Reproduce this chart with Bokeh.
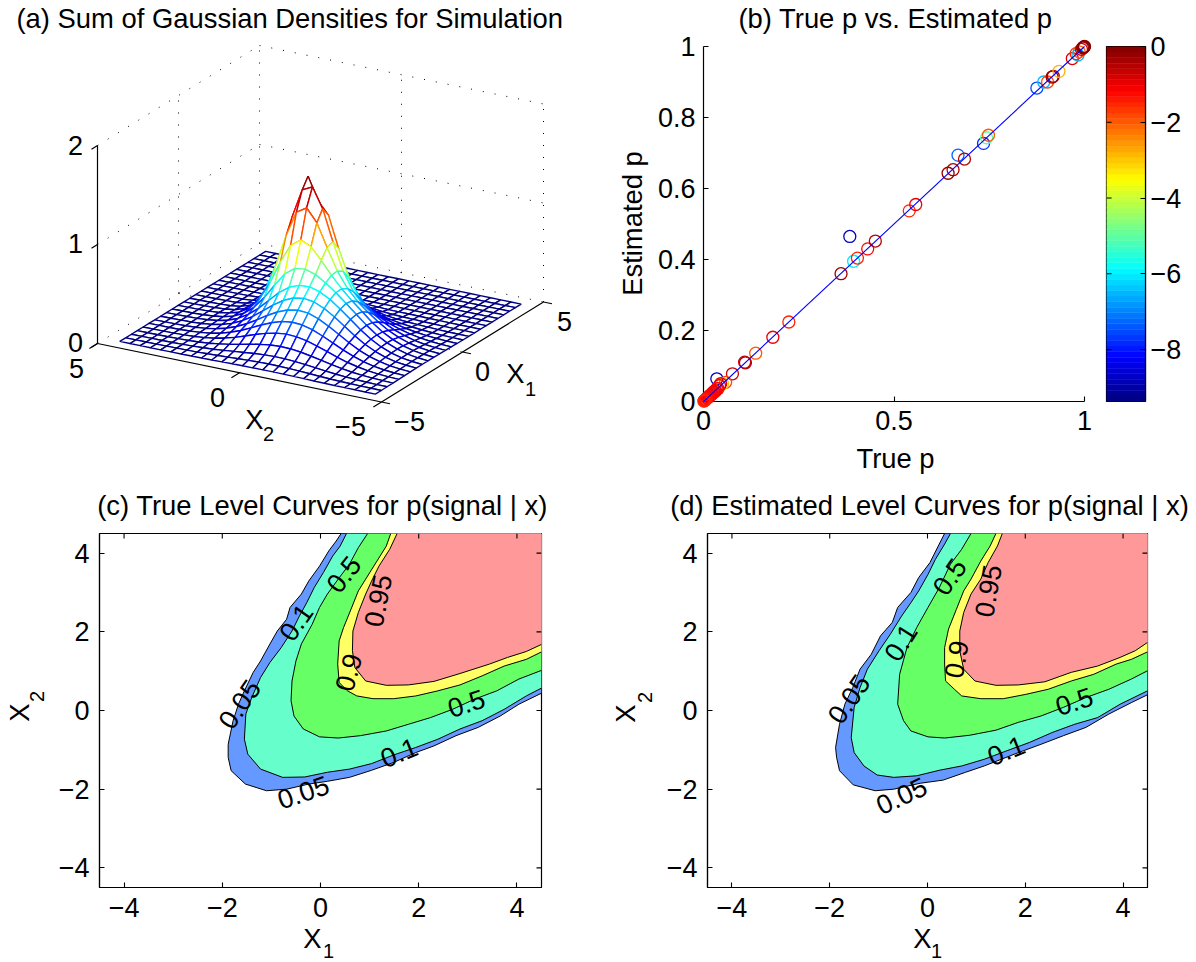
import numpy as np
from bokeh.plotting import figure
from bokeh.layouts import column, row
from bokeh.models import FixedTicker, Range1d
from bokeh.core.properties import value
from bokeh.embed import file_html
from bokeh.resources import INLINE

FONT = "Liberation Sans"
TITLE_PX, TICK_PX, LABEL_PX, SUB_PX, CLAB_PX = "27.4px", "27px", "27.4px", "20px", "27px"

# ---------- panel (a) surface ----------
grid_x1 = [-4.5, -4.14, -3.78, -3.42, -3.06, -2.70, -2.34, -1.98, -1.62, -1.26, -0.90, -0.54, -0.18,
           0.18, 0.54, 0.90, 1.26, 1.62, 1.98, 2.34, 2.70, 3.06, 3.42, 3.78, 4.14, 4.5]
grid_x2 = list(grid_x1)
surface_z = [
 [0,0,.001,.001,.002,.003,.005,.007,.008,.01,.011,.011,.01,.009,.008,.006,.004,.003,.002,.001,.001,0,0,0,0,0],
 [0,.001,.002,.004,.006,.01,.014,.02,.025,.029,.032,.033,.031,.028,.023,.018,.013,.009,.005,.003,.002,.001,0,0,0,0],
 [.001,.002,.004,.008,.014,.021,.031,.043,.054,.063,.07,.072,.068,.06,.05,.039,.028,.019,.012,.007,.004,.002,.001,0,0,0],
 [.002,.005,.009,.016,.026,.041,.06,.082,.103,.122,.134,.138,.131,.116,.097,.074,.053,.036,.022,.013,.007,.004,.002,.001,0,0],
 [.003,.007,.014,.025,.043,.067,.098,.134,.169,.2,.22,.226,.215,.191,.159,.122,.087,.059,.036,.021,.011,.006,.002,.001,0,0],
 [.005,.01,.019,.035,.059,.092,.135,.184,.232,.275,.303,.31,.296,.262,.218,.168,.12,.081,.05,.029,.016,.008,.003,.002,.001,0],
 [.006,.013,.024,.045,.075,.117,.172,.235,.296,.35,.386,.395,.376,.334,.278,.213,.152,.103,.064,.037,.02,.01,.004,.002,.001,0],
 [.007,.015,.029,.053,.09,.14,.205,.28,.353,.418,.463,.478,.461,.414,.347,.266,.188,.125,.077,.044,.024,.012,.005,.003,.001,0],
 [.008,.017,.033,.059,.1,.156,.228,.313,.396,.472,.528,.557,.552,.511,.436,.335,.234,.152,.09,.051,.027,.013,.006,.003,.001,0],
 [.008,.018,.034,.062,.105,.163,.239,.328,.417,.505,.582,.645,.68,.666,.588,.453,.307,.188,.106,.056,.029,.014,.006,.003,.001,0],
 [.008,.017,.033,.06,.101,.157,.23,.318,.408,.508,.622,.75,.868,.914,.839,.649,.424,.242,.124,.06,.03,.013,.006,.003,.001,0],
 [.007,.015,.028,.052,.088,.136,.2,.277,.363,.474,.63,.844,1.073,1.203,1.138,.883,.562,.301,.141,.062,.027,.012,.005,.003,.001,0],
 [.005,.012,.022,.04,.068,.106,.156,.219,.293,.407,.59,.866,1.179,1.379,1.328,1.031,.646,.333,.147,.058,.024,.009,.004,.002,.001,0],
 [.004,.008,.016,.028,.048,.074,.109,.155,.213,.312,.485,.759,1.077,1.2,1.43,.974,.605,.305,.13,.048,.019,.006,.003,.001,0,0],
 [.002,.005,.01,.018,.03,.047,.069,.098,.137,.207,.336,.543,.785,.948,.926,.72,.446,.223,.093,.034,.012,.004,.002,.001,0,0],
 [.001,.003,.005,.01,.017,.026,.038,.056,.077,.117,.19,.309,.447,.541,.528,.411,.254,.127,.052,.019,.008,.002,.001,0,0,0],
 [.001,.001,.003,.005,.009,.013,.019,.026,.038,.057,.088,.14,.198,.239,.232,.18,.112,.057,.024,.009,.002,.001,0,0,0,0],
 [0,.001,.001,.002,.004,.006,.009,.012,.015,.023,.035,.051,.07,.083,.08,.062,.039,.02,.008,.004,.001,.001,0,0,0,0],
 [0,0,.001,.001,.002,.002,.004,.005,.006,.007,.011,.015,.02,.023,.022,.016,.01,.005,.001,.001,0,0,0,0,0,0],
 [0,0,0,0,.001,.001,.001,.002,.002,.003,.003,.003,.003,.003,.002,.002,.001,.001,.001,0,0,0,0,0,0,0],
 [0,0,0,0,0,.001,.001,.001,.001,.001,.001,.001,.001,.001,.001,.001,0,0,0,0,0,0,0,0,0,0],
 [0]*26, [0]*26, [0]*26, [0]*26, [0]*26,
]

# ---------- panel (b) scatter ----------
true_p = [.035,.384,.361,.394,.404,.431,.451,.54,.557,.642,.655,.668,.685,.735,.743,.748,.875,.893,.903,.915,.918,.933,
          .968,.983,.978,.986,.992,.995,.997,.998,.999,1.0,
          .182,.224,.137,.11,.108,.076,.058,.05,.045,.042,.038,.035,.032,.03,.028,.026,.024,.022,.02,.018,.016,.014,.012,.01,.008,.006,.005,.004,.003,.002,.001]
est_p = [.064,.465,.36,.395,.404,.43,.452,.537,.555,.643,.653,.694,.683,.727,.743,.75,.883,.9,.9,.914,.916,.93,
         .966,.976,.98,.985,.992,.996,.997,.998,.999,1.0,
         .181,.224,.136,.109,.111,.078,.054,.05,.05,.045,.036,.036,.03,.03,.026,.027,.023,.022,.019,.018,.016,.013,.012,.01,.008,.006,.005,.004,.003,.002,.001]
log_err = [-8.8,-8.7,-.3,-6,-1.5,-1.2,-.5,-1.5,-1,-.2,-.4,-7.3,-.5,-7.8,-5,-2,-7.5,-6.5,-1.8,-.3,-.3,-2.8,
           -.9,-6.5,-1.5,-2,-.6,-.3,-.2,-.1,-.1,-.1,
           -1,-1.5,-2,-.4,-.6,-.7,-1.8,-3,-1,-.9,-1.2,-1.3,-1,-1.2,-1.1,-1,-1.3,-1.2,-1,-1.2,-1.1,-1.3,-1.2,-1.2,-1.3,-1.4,-1.3,-1.4,-1.4,-1.5,-1.5]
err_low, err_high = -9.37, 0.0

# ---------- panels (c), (d) level curves: (X1, X2) ----------
level_names = ["0.05", "0.1", "0.5", "0.9", "0.95"]
level_colors = ["#6699ff", "#66ffcc", "#66ff66", "#ffff66", "#ff9999"]
c_05 = [(.42,4.5),(.32,4.31),(.17,4.06),(-.02,3.67),(-.24,3.29),(-.39,2.96),(-.62,2.62),(-.69,2.32),(-.88,2.02),(-1.03,1.69),(-1.22,1.26),(-1.37,.97),(-1.55,.5),(-1.67,.16),(-1.78,-.26),(-1.88,-.86),(-1.88,-1.19),(-1.82,-1.53),(-1.53,-1.87),(-1.1,-2.04),(-.69,-2.0),(-.24,-1.87),(.14,-1.8),(.59,-1.7),(1.04,-1.52),(1.49,-1.32),(1.94,-1.07),(2.31,-.9),(2.76,-.64),(3.21,-.43),(3.66,-.14),(4.04,.16),(4.5,.44)]
c_10 = [(.53,4.5),(.4,4.18),(.25,3.93),(.06,3.51),(-.13,3.12),(-.28,2.74),(-.43,2.4),(-.58,2.02),(-.8,1.6),(-1.03,1.22),(-1.22,.84),(-1.4,.33),(-1.52,-.09),(-1.55,-.73),(-1.48,-1.11),(-1.22,-1.49),(-.77,-1.7),(-.32,-1.69),(.14,-1.57),(.59,-1.49),(1.04,-1.35),(1.49,-1.13),(1.94,-.94),(2.39,-.73),(2.84,-.47),(3.29,-.26),(3.74,.03),(4.19,.37),(4.5,.57)]
c_50 = [(.96,4.5),(.77,4.14),(.59,3.72),(.36,3.34),(.14,2.96),(-.02,2.62),(-.17,2.19),(-.39,1.69),(-.5,1.26),(-.58,.75),(-.6,.25),(-.54,-.14),(-.35,-.47),(-.02,-.67),(.36,-.7),(.81,-.64),(1.34,-.52),(1.79,-.35),(2.24,-.18),(2.69,.03),(3.14,.29),(3.59,.5),(4.04,.8),(4.5,1.02)]
c_90 = [(1.43,4.5),(1.34,4.18),(1.15,3.8),(.92,3.34),(.77,3.04),(.62,2.57),(.47,2.11),(.38,1.77),(.35,1.18),(.38,.71),(.55,.5),(.74,.37),(1.07,.3),(1.49,.3),(1.94,.37),(2.39,.5),(2.84,.65),(3.29,.88),(3.74,1.13),(4.19,1.3),(4.5,1.49)]
c_95 = [(1.56,4.5),(1.41,4.1),(1.19,3.67),(1.04,3.29),(.92,2.96),(.77,2.49),(.66,2.02),(.65,1.52),(.7,1.09),(.92,.75),(1.34,.64),(1.79,.65),(2.31,.74),(2.84,.94),(3.44,1.18),(3.81,1.35),(4.19,1.5),(4.5,1.68)]
d_05 = [(.35,4.5),(.24,4.23),(.05,3.76),(-.18,3.38),(-.34,3.0),(-.61,2.62),(-.72,2.24),(-.96,1.9),(-1.15,1.43),(-1.38,1.05),(-1.53,.58),(-1.69,.16),(-1.8,-.35),(-1.88,-.94),(-1.86,-1.19),(-1.8,-1.53),(-1.52,-1.89),(-1.07,-2.04),(-.69,-2.0),(-.15,-1.85),(.32,-1.77),(.78,-1.57),(1.16,-1.41),(1.86,-1.07),(2.32,-.86),(2.78,-.64),(3.24,-.43),(3.71,-.09),(4.17,.2),(4.5,.4)]
d_10 = [(.47,4.5),(.35,4.23),(.16,3.84),(.01,3.46),(-.18,3.04),(-.34,2.74),(-.53,2.4),(-.76,1.94),(-.99,1.52),(-1.23,1.05),(-1.38,.58),(-1.5,.08),(-1.56,-.69),(-1.5,-1.07),(-1.3,-1.41),(-1.03,-1.64),(-.69,-1.7),(-.22,-1.66),(.24,-1.52),(.7,-1.41),(1.16,-1.24),(1.63,-1.02),(2.09,-.81),(2.55,-.56),(3.01,-.35),(3.48,-.18),(3.94,.16),(4.5,.5)]
d_50 = [(.89,4.5),(.7,4.1),(.47,3.72),(.24,3.12),(.01,2.62),(-.22,2.11),(-.42,1.6),(-.57,.92),(-.61,.16),(-.49,-.26),(-.34,-.52),(.01,-.67),(.35,-.7),(.86,-.63),(1.4,-.5),(1.86,-.3),(2.32,-.14),(2.78,.08),(3.24,.33),(3.71,.54),(4.17,.8),(4.5,1.01)]
d_90 = [(1.4,4.5),(1.28,4.18),(1.09,3.8),(.89,3.34),(.74,3.04),(.59,2.57),(.43,2.07),(.35,1.6),(.35,1.18),(.37,.75),(.55,.54),(.7,.37),(1.09,.3),(1.55,.3),(2.01,.41),(2.47,.54),(2.94,.75),(3.4,.92),(3.86,1.18),(4.17,1.3),(4.5,1.49)]
d_95 = [(1.53,4.5),(1.43,4.18),(1.24,3.76),(1.09,3.34),(.89,2.96),(.74,2.49),(.66,2.02),(.66,1.52),(.74,1.05),(.97,.75),(1.4,.64),(1.86,.65),(2.4,.73),(2.94,.97),(3.48,1.13),(3.94,1.35),(4.25,1.52),(4.5,1.73)]
c_labels = [("0.95",1.17,2.79,79),("0.5",.47,3.46,52),("0.1",-.5,2.24,55),("0.05",-1.65,.16,55),("0.9",.57,.97,75),("0.5",2.97,.18,18),("0.1",1.6,-1.07,22),("0.05",-.35,-2.08,19)]
d_labels = [("0.95",1.24,3.04,80),("0.5",.45,3.4,55),("0.1",-.55,1.73,58),("0.05",-1.61,.29,55),("0.9",.59,1.3,80),("0.5",3.0,.23,18),("0.1",1.61,-1.02,22),("0.05",-.53,-2.17,25)]


def jet(t):
    t = min(max(float(t), 0.0), 1.0)
    f = lambda a: min(max(1.5 - abs(4 * t - a), 0.0), 1.0)
    r, g, b = f(3), f(2), f(1)
    return "#%02x%02x%02x" % (round(r * 255), round(g * 255), round(b * 255))


# ---------- panel (a) ----------
ORG = (97.0, 343.0)
V1 = (16.2, -10.0)
V2 = (28.4, 5.85)
VZ = 99.0


def proj(x1, x2, z=0.0):
    return (ORG[0] + (x1 + 5) * V1[0] + (5 - x2) * V2[0],
            ORG[1] + (x1 + 5) * V1[1] + (5 - x2) * V2[1] - z * VZ)


def free(r):
    """Do not clip this renderer to the plot frame."""
    r.level = "annotation"
    return r


pa = figure(width=598, height=478, x_range=Range1d(0, 598), y_range=Range1d(401, 46),
            x_axis_type=None, y_axis_type=None, toolbar_location=None, output_backend="svg",
            min_border_left=0, min_border_right=0, min_border_top=46, min_border_bottom=77, outline_line_color=None)
pa.grid.visible = False
dots = []
for z in (0, 1, 2):
    dots.append([(-5, 5, z), (5, 5, z)])
    dots.append([(5, 5, z), (5, -5, z)])
for x in (0, 5):
    dots.append([(x, 5, 0), (x, 5, 2)])
for x in (0, -5):
    dots.append([(5, x, 0), (5, x, 2)])
dots.append([(0, 5, 0), (0, -5, 0)])
dots.append([(-5, 0, 0), (5, 0, 0)])
free(pa.multi_line([[proj(*q)[0] for q in s] for s in dots], [[proj(*q)[1] for q in s] for s in dots],
                   line_color="black", line_width=1, line_dash="1 11"))
zmax = max(max(r) for r in surface_z)
qx, qy, qc = [], [], []
for i in range(len(grid_x1) - 2, -1, -1):
    for j in range(len(grid_x2) - 2, -1, -1):
        cs = [(i, j), (i + 1, j), (i + 1, j + 1), (i, j + 1)]
        pts = [proj(grid_x1[a], grid_x2[b], surface_z[a][b]) for a, b in cs]
        qx.append([p[0] for p in pts])
        qy.append([p[1] for p in pts])
        zs = [surface_z[a][b] for a, b in cs]
        qc.append(jet((.3 * np.mean(zs) + .7 * max(zs)) / zmax))
free(pa.patches(qx, qy, fill_color="white", line_color=qc, line_width=1.4))
axes3 = [[(-5, 5, 0), (-5, 5, 2)], [(-5, 5, 0), (-5, -5, 0)], [(-5, -5, 0), (5, -5, 0)]]
for z in (0, 1, 2):
    axes3.append([(-5, 5, z), (-5.37, 5, z)])
for x2 in (5, 0, -5):
    axes3.append([(-5, x2, 0), (-5.5, x2, 0)])
for x1 in (-5, 0, 5):
    axes3.append([(x1, -5, 0), (x1, -5.3, 0)])
free(pa.multi_line([[proj(*q)[0] for q in s] for s in axes3], [[proj(*q)[1] for q in s] for s in axes3],
                   line_color="black", line_width=1.2))
a_texts = [("(a) Sum of Gaussian Densities for Simulation", 16, 18, "left", TITLE_PX),
           ("2", 75, 145, "center", TICK_PX), ("1", 75, 243, "center", TICK_PX), ("0", 75, 342, "center", TICK_PX),
           ("5", 76, 368, "center", TICK_PX), ("0", 217, 397, "center", TICK_PX), ("\u22125", 350, 426, "center", TICK_PX),
           ("\u22125", 409, 421, "center", TICK_PX), ("0", 482, 371, "center", TICK_PX), ("5", 564, 321, "center", TICK_PX),
           ("X", 254, 419, "center", LABEL_PX), ("2", 268, 433, "center", SUB_PX),
           ("X", 515, 373, "center", LABEL_PX), ("1", 530, 388, "center", SUB_PX)]
for t, x, y, al, sz in a_texts:
    free(pa.text([x], [y], text=[t], text_font=value(FONT), text_font_size=value(sz), text_align=al,
                 text_baseline="middle", text_color="black"))


def style_axis(ax, standoff=11):
    ax.major_tick_in = 5
    ax.major_tick_out = 0
    ax.minor_tick_in = 0
    ax.minor_tick_out = 0
    ax.axis_line_color = "black"
    ax.axis_line_width = 1.2
    ax.major_tick_line_width = 1.1
    ax.major_label_text_font = FONT
    ax.major_label_text_font_size = TICK_PX
    ax.major_label_text_color = "black"
    ax.major_label_standoff = standoff


def page_label(p, fx0, fx1, fy0, fy1, xr, yr, text, px, py, size, angle=0):
    """Place a text at a page position, through the panel's own data range."""
    x = xr[0] + (px - fx0) / (fx1 - fx0) * (xr[1] - xr[0])
    y = yr[0] + (fy1 - py) / (fy1 - fy0) * (yr[1] - yr[0])
    free(p.text([x], [y], text=[text], text_font=value(FONT), text_font_size=value(size), text_color="black",
                text_align="center", text_baseline="middle", angle=angle, angle_units="deg"))


# ---------- panel (b) ----------
pb = figure(width=502, height=478, x_range=Range1d(0, 1), y_range=Range1d(0, 1), toolbar_location=None,
            output_backend="svg", min_border_left=105, min_border_right=16, min_border_top=46, min_border_bottom=77,
            outline_line_color=None)
pb.grid.visible = False
style_axis(pb.xaxis[0], 9); style_axis(pb.yaxis[0], 8)
pb.xaxis[0].ticker = FixedTicker(ticks=[0, .5, 1])
pb.xaxis[0].major_label_overrides = {0: "0", 0.5: "0.5", 1: "1"}
pb.yaxis[0].ticker = FixedTicker(ticks=[0, .2, .4, .6, .8, 1])
pb.yaxis[0].major_label_overrides = {0: "0", 0.2: "0.2", 0.4: "0.4", 0.6: "0.6", 0.8: "0.8", 1: "1"}
free(pb.scatter(true_p, est_p, marker="circle", size=12, fill_color=None, line_width=1.3,
                line_color=[jet((v - err_low) / (err_high - err_low)) for v in log_err]))
free(pb.line([0, 1], [0, 1], line_color="#0000ff", line_width=1.1))
B = (703, 1084, 46, 401, (0, 1), (0, 1))
page_label(pb, *B, "(b) True p vs. Estimated p", 895, 18, TITLE_PX)
page_label(pb, *B, "True p", 895, 458, LABEL_PX)
page_label(pb, *B, "Estimated p", 632, 223, LABEL_PX, angle=90)

# colour bar
cb_edges = list(np.linspace(err_low, err_high, 65))
cb_cols = [jet((i + .5) / 64) for i in range(64)]
pcb = figure(width=88, height=478, x_range=Range1d(0, 1), y_range=Range1d(err_low, err_high), toolbar_location=None,
             output_backend="svg", min_border_left=6, min_border_right=43, min_border_top=46, min_border_bottom=77,
             x_axis_type=None, y_axis_location="right", outline_line_color="black", outline_line_width=1.2)
pcb.grid.visible = False
pcb.quad(left=0, right=1, bottom=cb_edges[:-1], top=cb_edges[1:], line_color=cb_cols, line_width=.5, fill_color=cb_cols)
cb_ticks = [0, -2, -4, -6, -8]
rax = pcb.yaxis[0]
style_axis(rax, 5)
rax.ticker = FixedTicker(ticks=cb_ticks)
rax.major_label_overrides = {0: "0", -2: "\u22122", -4: "\u22124", -6: "\u22126", -8: "\u22128"}
pcb.segment(x0=[0] * 5, x1=[.13] * 5, y0=cb_ticks, y1=cb_ticks, line_color="black", line_width=1.1)


# ---------- panels (c), (d) ----------
def contour_panel(title, curves, labels, width, left, right, fx0, fx1, texts):
    p = figure(width=width, height=484, x_range=Range1d(-4.5, 4.5), y_range=Range1d(-4.5, 4.5), toolbar_location=None,
               output_backend="svg", min_border_left=left, min_border_right=right, min_border_top=55, min_border_bottom=75,
               outline_line_color="black", outline_line_width=1.2)
    p.grid.visible = False
    tks = [-4, -2, 0, 2, 4]
    ov = {-4: "\u22124", -2: "\u22122", 0: "0", 2: "2", 4: "4"}
    for ax in (p.xaxis[0], p.yaxis[0]):
        style_axis(ax, 10)
        ax.ticker = FixedTicker(ticks=tks)
        ax.major_label_overrides = ov
    for curve, col in zip(curves, level_colors):
        xs = [q[0] for q in curve]
        ys = [q[1] for q in curve]
        p.patch(xs + [4.5], ys + [4.5], fill_color=col, line_color=None)
        p.line(xs, ys, line_color="black", line_width=1)
    n = len(tks)
    p.segment(x0=tks, x1=tks, y0=[4.5] * n, y1=[4.373] * n, line_color="black", line_width=1.1)
    p.segment(x0=[4.5] * n, x1=[4.398] * n, y0=tks, y1=tks, line_color="black", line_width=1.1)
    for t, x, y, a in labels:
        p.text([x], [y], text=[t], angle=a, angle_units="deg", text_font=value(FONT),
               text_font_size=value(CLAB_PX), text_align="center", text_baseline="middle", text_color="black")
    fr = (fx0, fx1, 533, 887, (-4.5, 4.5), (-4.5, 4.5))
    page_label(p, *fr, title, (fx0 + fx1) / 2 + 2, 505, TITLE_PX)
    for t, px, py, sz, ang in texts:
        page_label(p, *fr, t, px, py, sz, angle=ang)
    return p


pc = contour_panel("(c) True Level Curves for p(signal | x)", [c_05, c_10, c_50, c_90, c_95], c_labels, 598, 99, 57, 99, 541,
                   [("X", 312, 938, LABEL_PX, 0), ("1", 328, 950, SUB_PX, 0), ("X", 19, 712, LABEL_PX, 90), ("2", 36, 696, SUB_PX, 90)])
pd_ = contour_panel("(d) Estimated Level Curves for p(signal | x)", [d_05, d_10, d_50, d_90, d_95], d_labels, 596, 109, 47, 707, 1147,
                    [("X", 922, 938, LABEL_PX, 0), ("1", 936, 950, SUB_PX, 0), ("X", 625, 713, LABEL_PX, 90), ("2", 644, 697, SUB_PX, 90)])

page = column(row(pa, pb, pcb, spacing=0), row(pc, pd_, spacing=0), spacing=0)
open("out.html", "w").write(file_html(page, INLINE))
